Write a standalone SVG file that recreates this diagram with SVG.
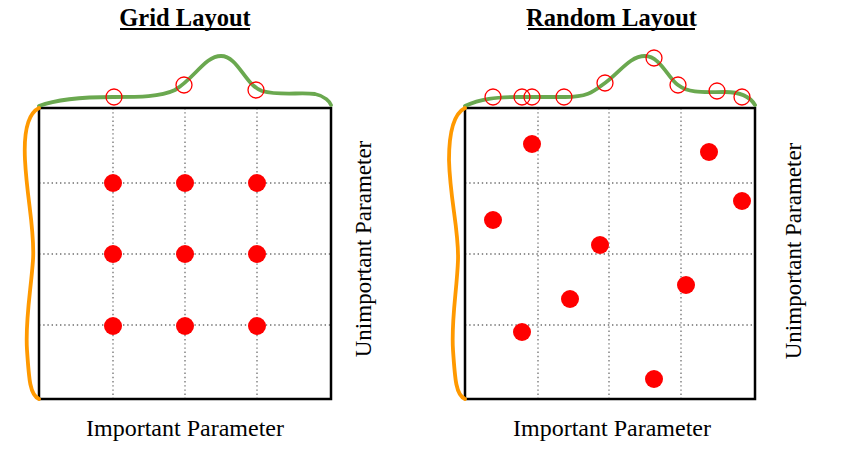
<svg xmlns="http://www.w3.org/2000/svg" width="844" height="452" viewBox="0 0 844 452">
<style>
.title{font-family:"Liberation Serif","Times New Roman",serif;font-weight:bold;font-size:24.5px;text-anchor:middle;fill:#000}
.lab{font-family:"Liberation Serif","Times New Roman",serif;font-size:24px;text-anchor:middle;fill:#000}
.vlab{font-family:"Liberation Serif","Times New Roman",serif;font-size:23px;text-anchor:middle;fill:#000}
.grid{stroke:#6f6f6f;stroke-width:1.3;stroke-dasharray:1.4 2.8;fill:none}
.box{fill:none;stroke:#000;stroke-width:2.5}
.green{fill:none;stroke:#6aa84f;stroke-width:3.8;stroke-linecap:round}
.orange{fill:none;stroke:#ff9900;stroke-width:3.8;stroke-linecap:round}
.dot{fill:#ff0000}
.ring{fill:none;stroke:#ff0000;stroke-width:1.3}
.ul{stroke:#000;stroke-width:2}
</style>
<rect width="844" height="452" fill="#fff"/>
<g id="grid-panel">
  <text class="title" x="185" y="26">Grid Layout</text>
  <line class="ul" x1="120" y1="29" x2="250" y2="29"/>
  <g id="grid-lines">
    <line class="grid" x1="113" y1="108" x2="113" y2="399"/>
    <line class="grid" x1="185" y1="108" x2="185" y2="399"/>
    <line class="grid" x1="257" y1="108" x2="257" y2="399"/>
    <line class="grid" x1="39" y1="183" x2="331" y2="183"/>
    <line class="grid" x1="39" y1="254" x2="331" y2="254"/>
    <line class="grid" x1="39" y1="325" x2="331" y2="325"/>
  </g>
  <rect class="box" x="39" y="108" width="292" height="291"/>
  <path class="green" d="M39,106 C60,98 90,97 113,97 C140,97 160,97 175,90 C195,78 205,56 221,56 C238,56 245,85 262,91 C280,96 300,92 315,94 C325,96 330,102 331,105"/>
  <path class="orange" d="M39,108 C25,115 24,140 25,160 C27,200 35,230 33,260 C31,290 25,320 27,350 C29,380 30,395 39,399"/>
  <g id="grid-samples">
    <circle class="dot" cx="113" cy="183" r="9"/>
    <circle class="dot" cx="185" cy="183" r="9"/>
    <circle class="dot" cx="257" cy="183" r="9"/>
    <circle class="dot" cx="113" cy="254" r="9"/>
    <circle class="dot" cx="185" cy="254" r="9"/>
    <circle class="dot" cx="257" cy="254" r="9"/>
    <circle class="dot" cx="113" cy="326" r="9"/>
    <circle class="dot" cx="185" cy="326" r="9"/>
    <circle class="dot" cx="257" cy="326" r="9"/>
  </g>
  <g id="grid-marginal">
    <circle class="ring" cx="114" cy="97" r="8"/>
    <circle class="ring" cx="184" cy="85" r="8"/>
    <circle class="ring" cx="256" cy="90" r="8"/>
  </g>
  <text class="lab" x="185" y="436">Important Parameter</text>
  <text class="vlab" transform="translate(371,249) rotate(-90)">Unimportant Parameter</text>
</g>
<g id="random-panel">
  <text class="title" x="611.5" y="26">Random Layout</text>
  <line class="ul" x1="528" y1="29" x2="695" y2="29"/>
  <g id="random-grid-lines">
    <line class="grid" x1="538" y1="108" x2="538" y2="399"/>
    <line class="grid" x1="609" y1="108" x2="609" y2="399"/>
    <line class="grid" x1="681" y1="108" x2="681" y2="399"/>
    <line class="grid" x1="465" y1="183" x2="755" y2="183"/>
    <line class="grid" x1="465" y1="254" x2="755" y2="254"/>
    <line class="grid" x1="465" y1="325" x2="755" y2="325"/>
  </g>
  <rect class="box" x="465" y="108" width="290" height="291"/>
  <path class="green" d="M465,106 C480,99 495,97 520,97 L565,97 C590,97 595,90 605,83 C620,72 630,56 645,56 C660,56 668,78 678,85 C690,94 705,92 725,92 C745,92 752,100 755,105"/>
  <path class="orange" d="M465,108 C451,115 449,140 449,160 C450,200 459,230 458,260 C457,290 451,320 453,350 C455,380 456,395 465,399"/>
  <g id="random-samples">
    <circle class="dot" cx="532" cy="144" r="9"/>
    <circle class="dot" cx="709" cy="152" r="9"/>
    <circle class="dot" cx="742" cy="201" r="9"/>
    <circle class="dot" cx="493" cy="220" r="9"/>
    <circle class="dot" cx="600" cy="245" r="9"/>
    <circle class="dot" cx="570" cy="299" r="9"/>
    <circle class="dot" cx="686" cy="285" r="9"/>
    <circle class="dot" cx="522" cy="332" r="9"/>
    <circle class="dot" cx="654" cy="379" r="9"/>
  </g>
  <g id="random-marginal">
    <circle class="ring" cx="493" cy="97" r="8"/>
    <circle class="ring" cx="522" cy="97" r="8"/>
    <circle class="ring" cx="532" cy="97" r="8"/>
    <circle class="ring" cx="564" cy="97" r="8"/>
    <circle class="ring" cx="605" cy="83" r="8"/>
    <circle class="ring" cx="654" cy="58" r="8"/>
    <circle class="ring" cx="678" cy="85" r="8"/>
    <circle class="ring" cx="717" cy="91" r="8"/>
    <circle class="ring" cx="742" cy="97" r="8"/>
  </g>
  <text class="lab" x="612" y="436">Important Parameter</text>
  <text class="vlab" transform="translate(801,251) rotate(-90)">Unimportant Parameter</text>
</g>
</svg>
